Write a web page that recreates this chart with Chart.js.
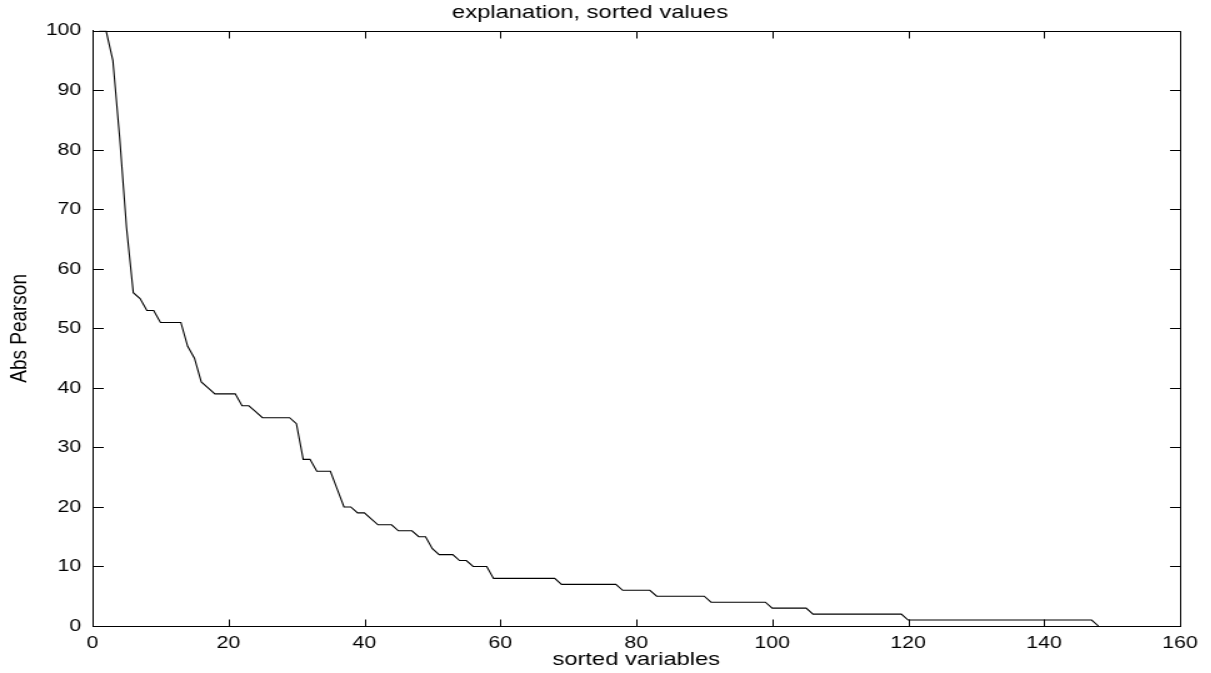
<!DOCTYPE html>
<html>
<head>
<meta charset="utf-8">
<script src="https://cdn.jsdelivr.net/npm/chart.js@4/dist/chart.umd.min.js"></script>
<style>
  html, body { margin: 0; padding: 0; background: #fff; overflow: hidden; }
  #wrap { width: 1211px; height: 673px; position: relative; overflow: hidden; }
  #c { position: absolute; left: 0; top: 0; transform: scaleX(1.25); transform-origin: 0 0; }
</style>
</head>
<body>
<div id="wrap"><canvas id="c" width="969" height="673"></canvas></div>
<script>
// ---- data ----
const chartTitle = "explanation, sorted values";
const xAxisTitle = "sorted variables";
const yAxisTitle = "Abs Pearson";
const xTickValues = [0, 20, 40, 60, 80, 100, 120, 140, 160];
const yTickValues = [0, 10, 20, 30, 40, 50, 60, 70, 80, 90, 100];
// Abs Pearson value for sorted variables 1, 2, 3, ...
const absPearson = [
  100, 100, 95, 82, 67, 56, 55, 53, 53, 51,
  51, 51, 51, 47, 45, 41, 40, 39, 39, 39,
  39, 37, 37, 36, 35, 35, 35, 35, 35, 34,
  28, 28, 26, 26, 26, 23, 20, 20, 19, 19,
  18, 17, 17, 17, 16, 16, 16, 15, 15, 13,
  12, 12, 12, 11, 11, 10, 10, 10, 8, 8,
  8, 8, 8, 8, 8, 8, 8, 8, 7, 7,
  7, 7, 7, 7, 7, 7, 7, 6, 6, 6,
  6, 6, 5, 5, 5, 5, 5, 5, 5, 5,
  4, 4, 4, 4, 4, 4, 4, 4, 4, 3,
  3, 3, 3, 3, 3, 2, 2, 2, 2, 2,
  2, 2, 2, 2, 2, 2, 2, 2, 2, 1,
  1, 1, 1, 1, 1, 1, 1, 1, 1, 1,
  1, 1, 1, 1, 1, 1, 1, 1, 1, 1,
  1, 1, 1, 1, 1, 1, 1, 0
];

const points = absPearson.map((v, i) => ({ x: i + 1, y: v }));

const matlabAxes = {
  id: 'matlabAxes',
  afterDatasetsDraw(chart) {
    const { ctx, chartArea: a, scales } = chart;
    ctx.save();
    ctx.strokeStyle = '#000';
    ctx.lineWidth = 1;
    const L = Math.round(a.left) + 0.5, R = Math.round(a.right) + 0.5;
    const T = Math.round(a.top) + 0.5, B = Math.round(a.bottom) + 0.5;
    ctx.beginPath();
    ctx.rect(L, T, R - L, B - T);
    ctx.stroke();
    ctx.beginPath();
    xTickValues.forEach(v => {
      const px = Math.round(scales.x.getPixelForValue(v)) + 0.5;
      ctx.moveTo(px, B); ctx.lineTo(px, B - 7);
      ctx.moveTo(px, T); ctx.lineTo(px, T + 7);
    });
    yTickValues.forEach(v => {
      const py = Math.round(scales.y.getPixelForValue(v)) + 0.5;
      ctx.moveTo(L, py); ctx.lineTo(L + 8.5, py);
      ctx.moveTo(R, py); ctx.lineTo(R - 8.5, py);
    });
    ctx.stroke();
    ctx.restore();
  }
};

Chart.defaults.font.family = "'Liberation Sans', Arial, Helvetica, sans-serif";
Chart.defaults.color = '#000';

new Chart(document.getElementById('c'), {
  type: 'line',
  data: {
    datasets: [{
      data: points,
      borderColor: '#000',
      borderWidth: 1.1,
      pointRadius: 0,
      tension: 0,
      fill: false
    }]
  },
  options: {
    responsive: false,
    animation: false,
    devicePixelRatio: 1,
    layout: { padding: { left: 0, right: 25, top: 0, bottom: 0 } },
    plugins: {
      legend: { display: false },
      tooltip: { enabled: false },
      title: {
        display: true,
        text: chartTitle,
        color: '#000',
        font: { size: 19, weight: 'normal', lineHeight: 1.2 },
        padding: { top: 1, bottom: 7 }
      }
    },
    scales: {
      x: {
        type: 'linear',
        min: 0, max: 160,
        grid: { display: false, drawTicks: false },
        border: { display: true, color: '#000', width: 1 },
        afterBuildTicks: s => { s.ticks = xTickValues.map(v => ({ value: v })); },
        afterFit: s => { s.height = 47; },
        ticks: { color: '#000', font: { size: 17, lineHeight: 1 }, padding: 9, maxRotation: 0, autoSkip: false },
        title: { display: true, text: xAxisTitle, color: '#000', font: { size: 19, lineHeight: 1.2 }, padding: { top: 0, bottom: 2 } }
      },
      y: {
        type: 'linear',
        min: 0, max: 100,
        grid: { display: false, drawTicks: false },
        border: { display: true, color: '#000', width: 1 },
        afterBuildTicks: s => { s.ticks = yTickValues.map(v => ({ value: v })); },
        afterFit: s => { s.width = 74; },
        ticks: { color: '#000', font: { size: 17, lineHeight: 1 }, padding: 9, autoSkip: false },
        title: {
          display: true, text: yAxisTitle, color: '#000',
          font: { family: "'Liberation Sans Narrow', 'Arial Narrow', 'Liberation Sans', Arial, sans-serif", size: 19, lineHeight: 1.2 },
          padding: { top: 4, bottom: 0 }
        }
      }
    }
  },
  plugins: [matlabAxes]
});
</script>
</body>
</html>
